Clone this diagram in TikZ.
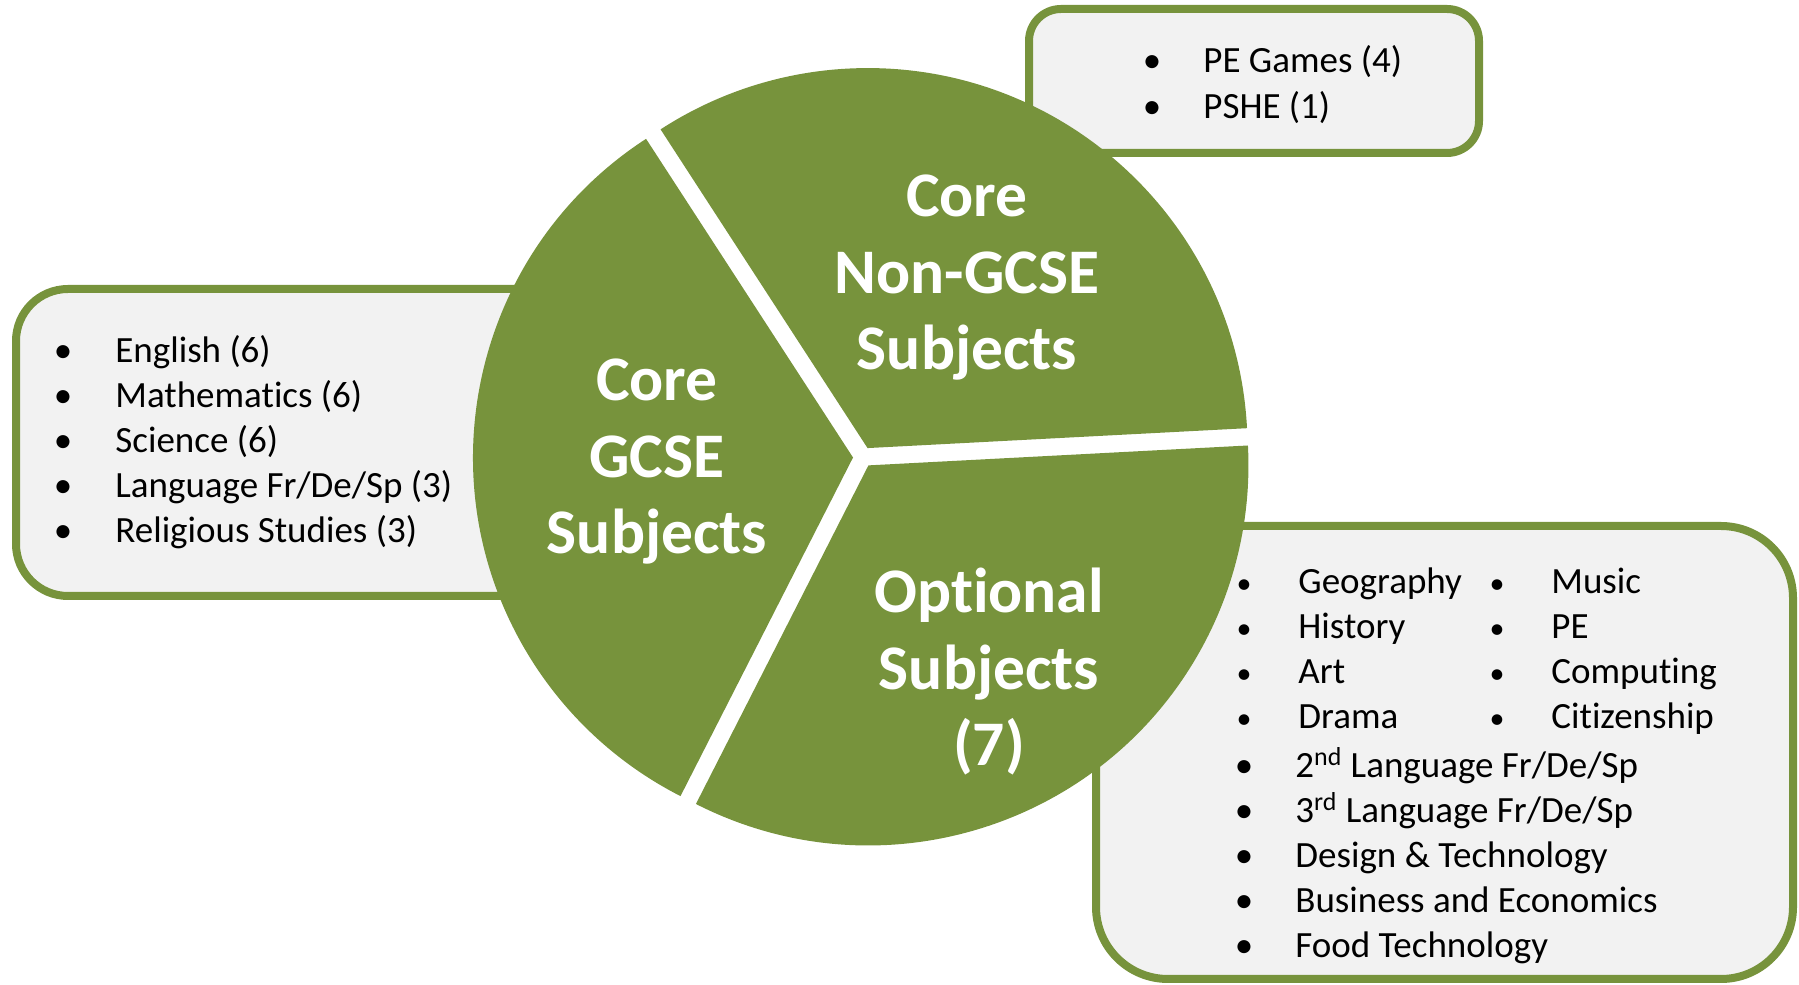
\documentclass[tikz,border=0pt]{standalone}
\usepackage{fontspec}
\setmainfont{Carlito}[Ligatures=NoCommon]
\definecolor{olivegreen}{HTML}{77933C}
\definecolor{boxgray}{HTML}{F2F2F2}
\tikzset{
  listbox/.style={draw=olivegreen, fill=boxgray, line width=4pt},
  item/.style={anchor=base west, inner sep=0pt, font=\fontsize{18.5}{22}\selectfont},
  dot/.style={anchor=base, inner sep=0pt, font=\fontsize{18.5}{22}\selectfont},
  smalldot/.style={dot, font=\fontsize{15}{18}\selectfont},
  slicetext/.style={text=white, align=center, inner sep=0pt, font=\fontsize{31.75}{38.25}\selectfont\bfseries}
}
\begin{document}
\begin{tikzpicture}[x=0.5pt,y=0.5pt]
\useasboundingbox (0,0) rectangle (1799,985);
\pgfmathsetmacro\R{380};
\pgfmathsetmacro\d{10};
\draw[listbox, rounded corners=16pt] (1029,832) rectangle (1479,976);
\draw[listbox, rounded corners=26pt] (16,389) rectangle (600,696);
\draw[listbox, rounded corners=36pt] (1096,6) rectangle (1793,459);
\coordinate (pc) at (863,528);
\foreach \a in {3,123,243} \fill[olivegreen] (pc) ++(\a+60:\d) -- ++(\a:\R) arc[start angle=\a, end angle=\a+120, radius=\R] -- cycle;
\node[slicetext] (gcse) at (657,523) {Core\\GCSE\\Subjects};
\node[slicetext] (nongcse) at (967,707) {Core\\Non-GCSE\\Subjects};
\node[slicetext] (optional) at (989,313) {Optional\\Subjects\\(7)};
\foreach \t [count=\i] in {English (6), Mathematics (6), Science (6), {Language Fr/De/Sp (3)}, Religious Studies (3)} {
  \node[dot] (gcseb\i) at (63,{667-45*\i}) {\textbullet};
  \node[item] (gcse\i) at (115,{667-45*\i}) {\t};
}
\foreach \t/\y [count=\i] in {PE Games (4)/912, PSHE (1)/866} {
  \node[dot] (coreb\i) at (1152,\y) {\textbullet};
  \node[item] (core\i) at (1203,\y) {\t};
}
\foreach \t [count=\i] in {Geography, History, Art, Drama} {
  \node[smalldot] (optab\i) at (1244,{436-45*\i}) {\textbullet};
  \node[item] (opta\i) at (1298,{436-45*\i}) {\t};
}
\foreach \t [count=\i] in {Music, PE, Computing, Citizenship} {
  \node[smalldot] (optbb\i) at (1497,{436-45*\i}) {\textbullet};
  \node[item] (optb\i) at (1551,{436-45*\i}) {\t};
}
\foreach \t [count=\i] in {{2\textsuperscript{nd} Language Fr/De/Sp}, {3\textsuperscript{rd} Language Fr/De/Sp}, Design \& Technology, Business and Economics, Food Technology} {
  \node[dot] (optcb\i) at (1244,{252-45*\i}) {\textbullet};
  \node[item] (optc\i) at (1295,{252-45*\i}) {\t};
}
\end{tikzpicture}
\end{document}
